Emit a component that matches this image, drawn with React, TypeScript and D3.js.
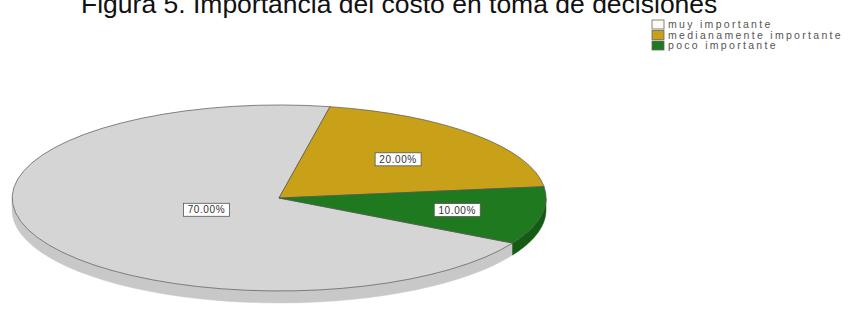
import React, { useRef, useEffect } from "react";
import { select, pie, arc, range } from "d3";

// datos
const categories = ["muy importante", "medianamente importante", "poco importante"];
const percentages = [70, 20, 10];
const sliceLabels = ["70.00%", "20.00%", "10.00%"];
const titleText = "Figura 5. Importancia del costo en toma de decisiones";

const colors = ["#d5d5d5", "#c9a118", "#1f7a1f"];
const sideColors = ["#c8c8c8", "#a88612", "#145c14"];

const W = 848;
const H = 309;

const App: React.FC = () => {
  const svgRef = useRef<SVGSVGElement>(null);

  useEffect(() => {
    const svg = select(svgRef.current);
    svg.selectAll("*").remove();

    const cx = 279;
    const cy = 198;
    const rx = 267;
    const ry = 93;
    const depth = 12;
    const deg = Math.PI / 180;

    const pieGen = pie<number>()
      .sort(null)
      .value((d) => d)
      .startAngle(119 * deg)
      .endAngle(119 * deg + 2 * Math.PI);
    const slices = pieGen(percentages);

    const px = (a: number) => cx + rx * Math.sin(a);
    const py = (a: number) => cy - ry * Math.cos(a);

    // titulo
    svg
      .append("text")
      .attr("x", 81)
      .attr("y", 13)
      .attr("font-family", "Liberation Sans, Arial, sans-serif")
      .attr("font-size", 26.5)
      .attr("fill", "#111")
      .text(titleText);

    // paredes laterales (solo la parte frontal)
    const sides = svg.append("g");
    slices.forEach((s, i) => {
      const a0 = s.startAngle;
      const a1 = s.endAngle;
      [
        [Math.PI / 2, (3 * Math.PI) / 2],
        [Math.PI / 2 + 2 * Math.PI, (3 * Math.PI) / 2 + 2 * Math.PI],
      ].forEach(([f0, f1]) => {
        const s0 = Math.max(a0, f0);
        const s1 = Math.min(a1, f1);
        if (s1 <= s0) return;
        const steps = range(0, 41).map((k) => s0 + ((s1 - s0) * k) / 40);
        const top = steps.map((a) => `${px(a)},${py(a)}`);
        const bottom = steps
          .slice()
          .reverse()
          .map((a) => `${px(a)},${py(a) + depth}`);
        sides
          .append("path")
          .attr("d", `M${top.join("L")}L${bottom.join("L")}Z`)
          .attr("fill", sideColors[i])
          .attr("stroke", sideColors[i])
          .attr("stroke-width", 0.5);
      });
    });

    // cara superior
    const arcGen = arc<any>().innerRadius(0).outerRadius(1);
    const topG = svg
      .append("g")
      .attr("transform", `translate(${cx},${cy}) scale(${rx},${ry})`);
    topG
      .selectAll("path")
      .data(slices)
      .join("path")
      .attr("d", (d) => arcGen(d) as string)
      .attr("fill", (d, i) => colors[i])
      .attr("stroke", "#555")
      .attr("stroke-width", 0.7)
      .attr("vector-effect", "non-scaling-stroke");

    // etiquetas
    const labelRadii = [0.3, 0.61, 0.68];
    const labels = svg.append("g");
    slices.forEach((s, i) => {
      const mid = (s.startAngle + s.endAngle) / 2;
      const lx = cx + rx * labelRadii[i] * Math.sin(mid);
      const ly = cy - ry * labelRadii[i] * Math.cos(mid);
      const bw = 46;
      const bh = 13;
      labels
        .append("rect")
        .attr("x", lx - bw / 2)
        .attr("y", ly - bh / 2)
        .attr("width", bw)
        .attr("height", bh)
        .attr("fill", "#fff")
        .attr("stroke", "#555")
        .attr("stroke-width", 0.8);
      labels
        .append("text")
        .attr("x", lx)
        .attr("y", ly + 3.5)
        .attr("text-anchor", "middle")
        .attr("font-family", "Liberation Sans, Arial, sans-serif")
        .attr("font-size", 10)
        .attr("letter-spacing", 0.6)
        .attr("fill", "#333")
        .text(sliceLabels[i]);
    });

    // leyenda
    const legend = svg.append("g").attr("transform", "translate(652,20)");
    categories.forEach((c, i) => {
      const row = legend.append("g").attr("transform", `translate(0,${i * 10.5})`);
      row
        .append("rect")
        .attr("x", 0)
        .attr("y", 0)
        .attr("width", 12)
        .attr("height", 9)
        .attr("fill", i === 0 ? "#fbfbf0" : colors[i])
        .attr("stroke", "#666")
        .attr("stroke-width", 0.8);
      row
        .append("text")
        .attr("x", 16)
        .attr("y", 8)
        .attr("font-family", "Liberation Sans, Arial, sans-serif")
        .attr("font-size", 10.5)
        .attr("letter-spacing", 2.3)
        .attr("fill", "#555")
        .text(c);
    });
  }, []);

  return (
    <svg
      ref={svgRef}
      width={W}
      height={H}
      viewBox={`0 0 ${W} ${H}`}
      style={{ position: "absolute", left: 0, top: 0, background: "#fff" }}
    />
  );
};

export default App;
